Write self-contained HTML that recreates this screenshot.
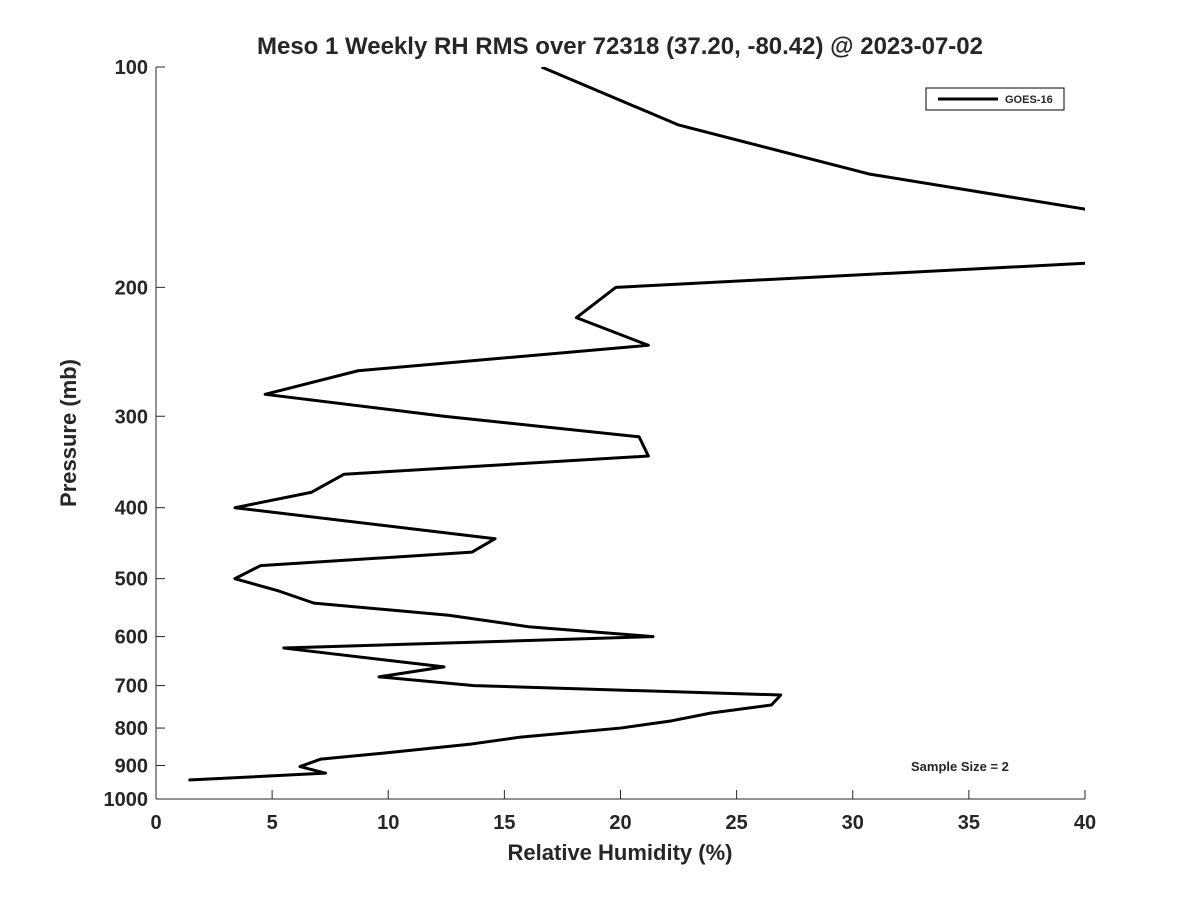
<!DOCTYPE html>
<html><head><meta charset="utf-8">
<style>
body{margin:0;background:#fff;font-family:"Liberation Sans",sans-serif;}
svg text{font-family:"Liberation Sans",sans-serif;font-weight:bold;fill:#262626;}
</style></head>
<body>
<svg width="1200" height="900" viewBox="0 0 1200 900">
<defs><clipPath id="plotclip"><rect x="156" y="67" width="929" height="732"/></clipPath></defs>
<rect width="1200" height="900" fill="#fff"/>
<text x="620" y="54" font-size="24" text-anchor="middle" fill="#000">Meso 1 Weekly RH RMS over 72318 (37.20, -80.42) @ 2023-07-02</text>
<g id="axes"></g>
<polyline id="series" fill="none" stroke="#000" stroke-width="3" stroke-linejoin="round" clip-path="url(#plotclip)"/>
<g>
<rect x="926" y="88" width="138" height="22" fill="#fff" stroke="#000" stroke-width="1"/>
<line x1="938" y1="99" x2="998" y2="99" stroke="#000" stroke-width="3"/>
<text x="1005" y="103" font-size="11" fill="#000">GOES-16</text>
</g>
<text x="911" y="771" font-size="13" fill="#000">Sample Size = 2</text>
<text x="620" y="860" font-size="22" text-anchor="middle">Relative Humidity (%)</text>
<text transform="translate(76,433) rotate(-90)" font-size="22" text-anchor="middle">Pressure (mb)</text>
</svg>
<script>
const pressures=[100,120,140,178,200,220,240,260,280,300,320,340,360,381,400,441,460,480,500,520,540,561,582,600,622,660,681,700,721,744,763,782,800,823,841,865,882,903,922,942];
const rhValues=[16.6,22.5,30.7,50.9,19.8,18.1,21.2,8.7,4.7,12.4,20.8,21.2,8.1,6.7,3.4,14.6,13.6,4.5,3.4,5.3,6.8,12.6,16.1,21.4,5.5,12.4,9.6,13.7,26.9,26.5,23.9,22.2,20,15.7,13.6,9.9,7.1,6.2,7.3,1.4];
const xTicks=[0,5,10,15,20,25,30,35,40];
const yTicks=[100,200,300,400,500,600,700,800,900,1000];
const X0=156,X1=1085,Y0=67,Y1=799;
function xs(v){return X0+(v-0)/(40-0)*(X1-X0);}
function ys(p){return Y0+(Math.log10(p)-2)/(3-2)*(Y1-Y0);}
const NS="http://www.w3.org/2000/svg";
const axes=document.getElementById('axes');
function mk(t,a){const e=document.createElementNS(NS,t);for(const k in a)e.setAttribute(k,a[k]);axes.appendChild(e);return e;}
let l=mk('line',{x1:X0,y1:Y0,x2:X0,y2:Y1,stroke:'#262626','stroke-width':1});


l=mk('line',{x1:X0,y1:Y1,x2:X1,y2:Y1,stroke:'#262626','stroke-width':1});


xTicks.forEach(v=>{const x=xs(v);
 mk('line',{x1:x,y1:Y1,x2:x,y2:Y1-9,stroke:'#262626'});
 const t=mk('text',{x:x,y:Y1+30,'font-size':20,'text-anchor':'middle'});t.textContent=v;
 
 
});
yTicks.forEach(p=>{const y=ys(p);
 mk('line',{x1:X0,y1:y,x2:X0+9,y2:y,stroke:'#262626'});
 const t=mk('text',{x:X0-8,y:y+7,'font-size':20,'text-anchor':'end'});t.textContent=p;
 
 
});
document.getElementById('series').setAttribute('points',pressures.map((p,i)=>xs(rhValues[i])+','+ys(p)).join(' '));
</script>
</body></html>
